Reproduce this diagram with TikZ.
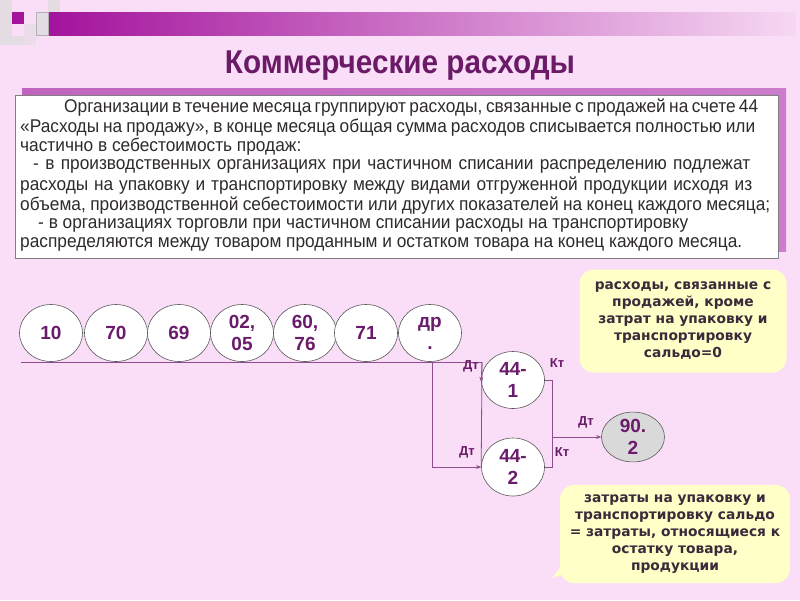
\documentclass[tikz,border=0pt]{standalone}
\usepackage{fontspec}
\setmainfont{Liberation Sans}
\newfontfamily\narrow{Liberation Sans}[FakeStretch=0.94]
\newfontfamily\titlefont{Liberation Sans}[FakeStretch=0.9]
\newfontfamily\callfont{DejaVu Sans}
\usetikzlibrary{shapes.geometric,arrows.meta}
\definecolor{bg}{HTML}{FADEF7}
\definecolor{barL}{HTML}{A3139C}
\definecolor{barR}{HTML}{F6D8F2}
\definecolor{titlec}{HTML}{6A1A66}
\definecolor{bodyc}{HTML}{2E2A2E}
\definecolor{acc}{HTML}{6B1B6B}
\definecolor{linec}{HTML}{8E4E8E}
\definecolor{shadowc}{HTML}{C064C0}
\definecolor{callc}{HTML}{FFFFC8}
\definecolor{calltext}{HTML}{3A2A3A}
\definecolor{greysq}{HTML}{E3DCE3}
\tikzset{
  bodyline/.style={anchor=west, inner sep=0, text=bodyc, font=\narrow\fontsize{18.4}{19}\selectfont},
  acct/.style={ellipse, draw=black!65, fill=white, line width=0.6pt, minimum width=63, minimum height=57, inner sep=0, align=center, text=acc, font=\bfseries\fontsize{19}{22}\selectfont},
  conn/.style={draw=linec, line width=0.8pt},
  tip/.style={-{Stealth[length=5pt,width=4pt]}},
  dtkt/.style={text=acc, inner sep=0, font=\bfseries\fontsize{13}{14}\selectfont},
  callbox/.style={fill=callc, rounded corners=14pt, align=center, inner sep=0, text=calltext, font=\callfont\bfseries\fontsize{13.8}{17}\selectfont}
}
\begin{document}
\begin{tikzpicture}[x=1pt,y=-1pt]
\useasboundingbox (0,0) rectangle (800,600);
\fill[bg] (0,0) rectangle (800,600);
% top-left decoration
\fill[greysq] (0,0) rectangle (12,45);
\fill[greysq] (48,0) rectangle (60,12);
\fill[greysq!70!bg] (24,24) rectangle (36,45);
\fill[greysq] (12,36) rectangle (24,45);
\fill[left color=barL, right color=barR] (48,12) rectangle (796,35);
\fill[barL] (12,12) rectangle (24,24);
\fill[greysq] (36,12) rectangle (48,35);
\draw[black!30, line width=0.5pt] (36,12) rectangle (48,35);
% title
\node[text=titlec, font=\titlefont\bfseries\fontsize{33}{36}\selectfont] (title) at (400,66) {Коммерческие расходы};
% text box
\fill[left color=shadowc, right color=shadowc!80!bg] (22,88) rectangle (786,251);
\node[draw=black!50, fill=white, line width=0.6pt, minimum width=763, minimum height=163, inner sep=0] (box) at (396.5,176.5) {};
\node[bodyline] (l1) at (64,108) {\makebox[694pt][s]{Организации в течение месяца группируют расходы, связанные с продажей на счете 44}};
\node[bodyline] (l2) at (20,127.5) {\makebox[735pt][s]{«Расходы на продажу», в конце месяца общая сумма расходов списывается полностью или}};
\node[bodyline] (l3) at (20,147) {частично в себестоимость продаж:};
\node[bodyline] (l4) at (33,166.5) {\makebox[717pt][s]{- в производственных организациях при частичном списании распределению подлежат}};
\node[bodyline] (l5) at (20,186) {\makebox[732pt][s]{расходы на упаковку и транспортировку между видами отгруженной продукции исходя из}};
\node[bodyline] (l6) at (20,205.5) {\makebox[750pt][s]{объема, производственной себестоимости или других показателей на конец каждого месяца;}};
\node[bodyline] (l7) at (38,225) {- в организациях торговли при частичном списании расходы на транспортировку};
\node[bodyline] (l8) at (20,244.5) {\makebox[722pt][s]{распределяются между товаром проданным и остатком товара на конец каждого месяца.}};
% account ellipses
\node[acct] (a10) at (51,333) {10};
\node[acct] (a70) at (116,333) {70};
\node[acct] (a69) at (179,333) {69};
\node[acct] (a02) at (242,333) {02,\\05};
\node[acct] (a60) at (305,333) {60,\\76};
\node[acct] (a71) at (366,333) {71};
\node[acct] (adr) at (430,333) {др\\.};
\node[acct] (b1) at (513,380) {44-\\1};
\node[acct, minimum height=58] (b2) at (513,467) {44-\\2};
\node[acct, fill=black!15, minimum height=46] (s90) at (633,437) {90.\\2};
% connectors
\coordinate (start) at (21,362);
\coordinate (j1) at (482,362);
\coordinate (jd) at (432,362);
\coordinate (k1) at (552,380);
\coordinate (k2) at (552,467);
\coordinate (k3) at (552,437);
\draw[conn] (start) -- (j1);
\draw[conn] (j1) -- (b2.west);
\draw[conn, tip] (j1) -- ([yshift=-2pt]b1.west);
\draw[conn, tip] (jd) |- (b2.west);
\draw[conn] (b1.east) -- (k1) -- (k2) -- (b2.east);
\draw[conn, tip] (k3) -- (s90.west);
% labels
\node[dtkt] (d1) at (471,366) {Дт};
\node[dtkt] (kt1) at (557,363) {Кт};
\node[dtkt] (d2) at (467,452) {Дт};
\node[dtkt] (kt2) at (562,452) {Кт};
\node[dtkt] (d3) at (586,422) {Дт};
% callouts
\node[callbox, minimum width=207, minimum height=103] (c1) at (683,321) {расходы, связанные с\\продажей, кроме\\затрат на упаковку и\\транспортировку\\сальдо=0};
\fill[callc] (566,560) -- (552,578) -- (575,570) -- cycle;
\node[callbox, minimum width=230, minimum height=98] (c2) at (675,534) {затраты на упаковку и\\транспортировку сальдо\\= затраты, относящиеся к\\остатку товара,\\продукции};
\end{tikzpicture}
\end{document}
